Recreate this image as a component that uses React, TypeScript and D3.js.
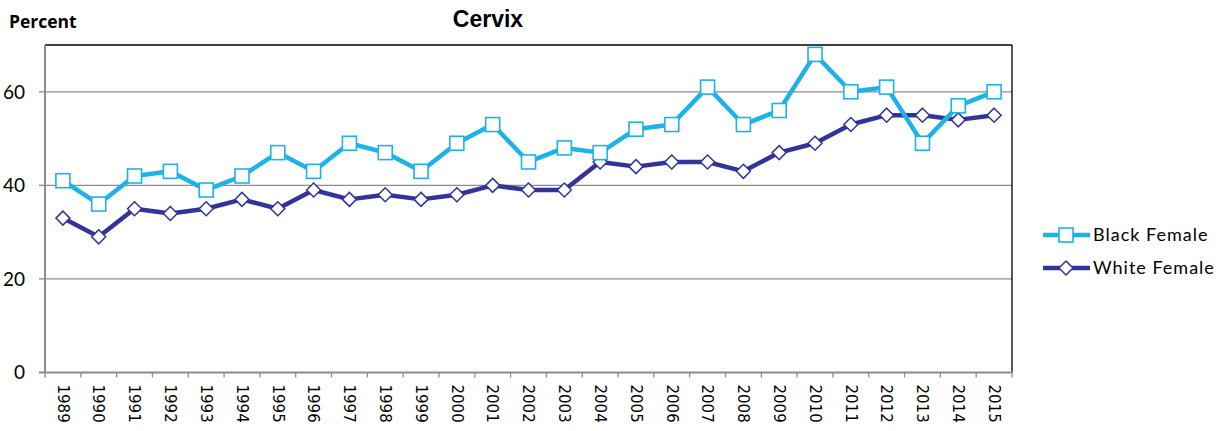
import React from "react";
import * as d3 from "d3";

const years = ["1989","1990","1991","1992","1993","1994","1995","1996","1997","1998","1999","2000","2001","2002","2003","2004","2005","2006","2007","2008","2009","2010","2011","2012","2013","2014","2015"];
const blackFemale = [41,36,42,43,39,42,47,43,49,47,43,49,53,45,48,47,52,53,61,53,56,68,60,61,49,57,60];
const whiteFemale = [33,29,35,34,35,37,35,39,37,38,37,38,40,39,39,45,44,45,45,43,47,49,53,55,55,54,55];
const yTicks = [0,20,40,60];

const BLUE = "#1DB3E8";
const NAVY = "#343399";

export default function App() {
  const W = 1230, H = 431;
  const left = 45, right = 1012, top = 45, bottom = 372.5;
  const x = d3.scaleBand().domain(years).range([left, right]);
  const y = d3.scaleLinear().domain([0, 70]).range([bottom, top]);
  const cx = (d: string) => (x(d) as number) + x.bandwidth() / 2;
  const line = d3.line<number>().x((_, i) => cx(years[i])).y((v) => y(v));
  const font = "Lato, 'Open Sans', sans-serif";

  const square = (px: number, py: number, c: string, k: string) => (
    <rect key={k} x={px - 7} y={py - 7} width={14} height={14} fill="#fff" stroke={c} strokeWidth={1.6} />
  );
  const diamond = (px: number, py: number, c: string, k: string) => (
    <path key={k} d={`M${px},${py - 7}L${px + 7},${py}L${px},${py + 7}L${px - 7},${py}Z`} fill="#fff" stroke={c} strokeWidth={1.5} />
  );

  return (
    <svg width={W} height={H} style={{ position: "absolute", left: 0, top: 0, background: "#fff" }}>
      <text x={9} y={28} fontFamily="'Open Sans', sans-serif" fontWeight="bold" fontSize={17.5} fill="#000">Percent</text>
      <text x={488} y={27} textAnchor="middle" fontFamily="'Liberation Sans', Arial, sans-serif" fontWeight="bold" fontSize={23} fill="#000">Cervix</text>
      {yTicks.filter((t) => t > 0).map((t) => (
        <line key={"g" + t} x1={left} x2={right} y1={y(t)} y2={y(t)} stroke="#8c8c8c" strokeWidth={1.3} />
      ))}
      <line x1={left} x2={right} y1={top} y2={top} stroke="#000" strokeWidth={1.3} />
      <line x1={right} x2={right} y1={top} y2={bottom} stroke="#000" strokeWidth={1.3} />
      <line x1={left} x2={left} y1={top} y2={bottom} stroke="#8c8c8c" strokeWidth={2} />
      <line x1={left - 6} x2={right} y1={bottom} y2={bottom} stroke="#8c8c8c" strokeWidth={2} />
      {yTicks.map((t) => (
        <g key={"t" + t}>
          <line x1={left - 6} x2={left} y1={y(t)} y2={y(t)} stroke="#8c8c8c" strokeWidth={1.3} />
          <text x={left - 20} y={y(t)} dy="0.36em" textAnchor="end" fontFamily={font} fontSize={19} fill="#000">{t}</text>
        </g>
      ))}
      {years.concat(["end"]).map((yr, i) => {
        const px = left + i * x.step();
        return <line key={"xt" + i} x1={px} x2={px} y1={bottom} y2={bottom + 5} stroke="#8c8c8c" strokeWidth={1.3} />;
      })}
      {years.map((yr) => (
        <text key={"xl" + yr} transform={`translate(${cx(yr)},${bottom + 12}) rotate(90)`} dy="0.35em" fontFamily="'DejaVu Sans', sans-serif" fontSize={15} fill="#000">{yr}</text>
      ))}
      <path d={line(whiteFemale) || ""} fill="none" stroke={NAVY} strokeWidth={4.5} strokeLinejoin="round" />
      <path d={line(blackFemale) || ""} fill="none" stroke={BLUE} strokeWidth={4.5} strokeLinejoin="round" />
      {whiteFemale.map((v, i) => diamond(cx(years[i]), y(v), NAVY, "w" + i))}
      {blackFemale.map((v, i) => square(cx(years[i]), y(v), BLUE, "b" + i))}
      <g>
        <line x1={1043} x2={1090} y1={235} y2={235} stroke={BLUE} strokeWidth={4.5} />
        {square(1066, 235, BLUE, "lb")}
        <text x={1093} y={235} dy="0.36em" fontFamily={font} fontSize={18} letterSpacing={1} fill="#000">Black Female</text>
        <line x1={1043} x2={1090} y1={268} y2={268} stroke={NAVY} strokeWidth={4.5} />
        {diamond(1066, 268, NAVY, "lw")}
        <text x={1093} y={268} dy="0.36em" fontFamily={font} fontSize={18} letterSpacing={1} fill="#000">White Female</text>
      </g>
    </svg>
  );
}
